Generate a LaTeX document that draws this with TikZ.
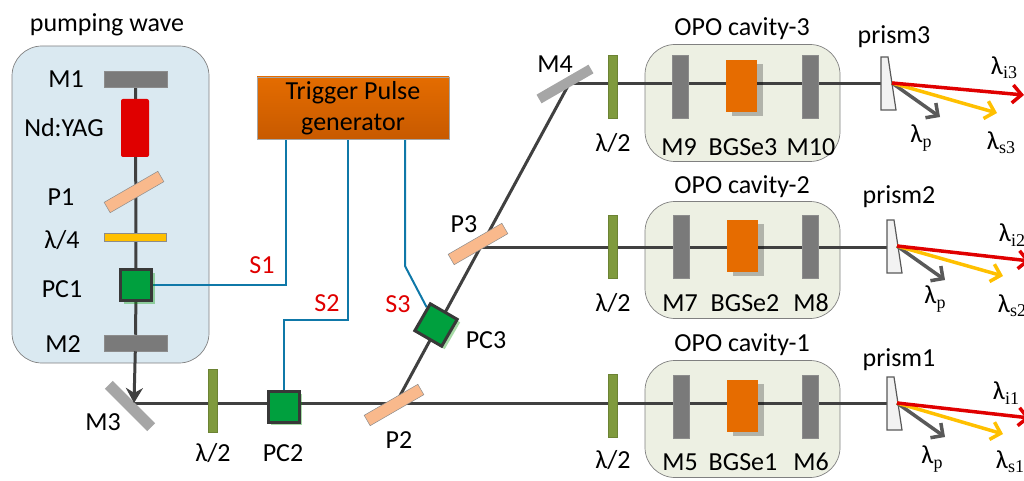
\documentclass[tikz,border=0pt]{standalone}
\usepackage{fontspec}
\setmainfont{Carlito}
\newfontfamily\subfont{Liberation Serif}
\usetikzlibrary{arrows.meta,shadows,backgrounds}
\definecolor{beamgray}{HTML}{404040}
\definecolor{pumpblue}{HTML}{DAE9F1}
\definecolor{cavitygreen}{HTML}{EDF0E3}
\definecolor{platepeach}{HTML}{F9B98C}
\definecolor{plategreen}{HTML}{7F9A3D}
\definecolor{cellgreen}{HTML}{00A03E}
\definecolor{wireblue}{HTML}{0F78A8}
\definecolor{crystalorange}{HTML}{E66C00}
\definecolor{triggertop}{HTML}{E46C00}
\definecolor{triggerlow}{HTML}{C85A00}
\definecolor{rayyellow}{HTML}{FFC000}
\definecolor{rayred}{HTML}{E00000}
\newcommand{\wl}[1]{λ\raisebox{-0.35ex}{\subfont\fontsize{18}{18}\selectfont #1}}
\tikzset{
    lab/.style={font=\fontsize{26}{30}\selectfont, inner sep=0pt},
    redlab/.style={lab, text=rayred},
    mirror/.style={rectangle, fill=black!52, draw=black!45, line width=0.5pt, inner sep=0pt},
    hmirror/.style={mirror, minimum width=63pt, minimum height=16pt},
    vmirror/.style={mirror, minimum width=16pt, minimum height=63pt},
    peach/.style={rectangle, fill=platepeach, draw=black!45, line width=0.5pt, inner sep=0pt, minimum width=62pt, minimum height=12pt, rotate=30},
    halfwave/.style={rectangle, fill=plategreen, draw=plategreen!85!black, line width=0.5pt, inner sep=0pt, minimum width=9pt, minimum height=63pt},
    cell/.style={rectangle, fill=cellgreen, draw=black!78, line width=3pt, inner sep=0pt, minimum width=31pt, minimum height=31pt,
        drop shadow={shadow xshift=3pt, shadow yshift=-3pt, fill=green!60!black, opacity=.35}},
    crystal/.style={rectangle, fill=crystalorange, inner sep=0pt, minimum width=31pt, minimum height=52pt,
        drop shadow={shadow xshift=6pt, shadow yshift=-4pt, fill=black, opacity=.25}},
    cavity/.style={rectangle, rounded corners=30pt, fill=cavitygreen, draw=black!50, line width=0.7pt, inner sep=0pt, minimum width=195pt, minimum height=117pt},
    beam/.style={draw=beamgray, line width=3pt},
    wire/.style={draw=wireblue, line width=2pt},
    prismbody/.style={fill=black!5, draw=black!65, line width=1.2pt},
    idler/.style={draw=rayred, line width=3.5pt, -{Straight Barb[length=9pt,width=18pt,line width=3.5pt]}},
    signal/.style={draw=rayyellow, line width=3.5pt, -{Straight Barb[length=9pt,width=18pt,line width=3.5pt]}},
    pump/.style={draw=black!65, line width=3.5pt, -{Straight Barb[length=9pt,width=18pt,line width=3.5pt]}},
}

\begin{document}
\begin{tikzpicture}[x=1pt, y=-1pt]
    \useasboundingbox (0,0) rectangle (1024,481);

    % pumping wave part
    \begin{pgfonlayer}{background}
        \node[rectangle, rounded corners=30pt, fill=pumpblue, draw=black!50, line width=0.7pt, inner sep=0pt, minimum width=197pt, minimum height=317pt] (pumpbox) at (110.5, 204.5) {};
        \node[cavity] (cavity3) at (742.5, 103) {};
        \node[cavity] (cavity2) at (742.5, 260) {};
        \node[cavity] (cavity1) at (742.5, 419) {};
    \end{pgfonlayer}
    \node[lab] (pumplab) at (107, 25) {pumping wave};
    \node[hmirror] (M1) at (135.5, 79.5) {};
    \node[rectangle, rounded corners=2pt, fill=rayred, inner sep=0pt, minimum width=28pt, minimum height=58pt] (yag) at (135, 128) {};
    \node[peach] (P1) at (134, 192) {};
    \node[rectangle, fill=rayyellow, draw=black!45, line width=0.5pt, inner sep=0pt, minimum width=62pt, minimum height=8pt] (qwave) at (135, 237) {};
    \node[cell] (PC1) at (136, 285) {};
    \node[hmirror] (M2) at (135.5, 343) {};
    \node[lab] (M1lab) at (66, 79) {M1};
    \node[lab] (yaglab) at (64, 128) {Nd:YAG};
    \node[lab] (P1lab) at (61, 197) {P1};
    \node[lab] (qwavelab) at (62, 240) {λ/4};
    \node[lab] (PC1lab) at (62, 289) {PC1};
    \node[lab] (M2lab) at (63, 344) {M2};

    % trigger
    \node[rectangle, top color=triggertop, bottom color=triggerlow, draw=black!35, line width=0.5pt, minimum width=192pt, minimum height=62pt, inner sep=0pt, align=center, font=\fontsize{26}{31}\selectfont] (trigger) at (353, 108) {Trigger Pulse\\generator};
    \coordinate (S1a) at (286, 139);
    \coordinate (S2a) at (348, 139);
    \coordinate (S3a) at (405, 139);
    \node[redlab] (S1) at (262, 265) {S1};
    \node[redlab] (S2) at (327, 303) {S2};
    \node[redlab] (S3) at (398, 304) {S3};

    % first line
    \node[rectangle, fill=black!35, inner sep=0pt, minimum width=60pt, minimum height=11pt, rotate=-45] (M3) at (130, 406) {};
    \node[halfwave] (wave1) at (213, 400.5) {};
    \node[cell] (PC2) at (283.5, 406.5) {};
    \node[peach] (P2) at (394, 405) {};
    \node[cell, rotate=-30] (PC3) at (436, 325) {};
    \node[peach] (P3) at (478, 244) {};
    \node[rectangle, fill=black!35, inner sep=0pt, minimum width=60pt, minimum height=10pt, rotate=30] (M4) at (565, 84) {};
    \node[lab] (M3lab) at (103, 422) {M3};
    \node[lab] (wave1lab) at (213, 453) {λ/2};
    \node[lab] (PC2lab) at (283, 453) {PC2};
    \node[lab] (P2lab) at (399, 440) {P2};
    \node[lab] (PC3lab) at (486, 340) {PC3};
    \node[lab] (P3lab) at (464, 224) {P3};
    \node[lab] (M4lab) at (555, 64) {M4};
    \coordinate (hitM3) at (134, 403);
    \coordinate (hitP2) at (396, 403);
    \coordinate (hitP3) at (478, 247);
    \coordinate (hitM4) at (569, 84);
    \draw[beam, -{Stealth[length=15pt,width=17pt]}] (M2) -- (hitM3);

    % cavity 3
    \node[lab] (cav3lab) at (742, 29) {OPO cavity-3};
    \node[halfwave] (wave4) at (613, 87) {};
    \node[vmirror] (M9) at (680, 86.5) {};
    \node[crystal] (crystal3) at (741.5, 86) {};
    \node[vmirror] (M10) at (810, 86.5) {};
    \node[lab] (wave4lab) at (613, 143) {λ/2};
    \node[lab] (M9lab) at (679, 147) {M9};
    \node[lab] (crystal3lab) at (743, 147) {BGSe3};
    \node[lab] (M10lab) at (811, 147) {M10};

    % cavity 2
    \node[lab] (cav2lab) at (742, 187) {OPO cavity-2};
    \node[halfwave] (wave3) at (613, 246.5) {};
    \node[vmirror] (M7) at (681, 247) {};
    \node[crystal] (crystal2) at (742.5, 246) {};
    \node[vmirror] (M8) at (810, 247) {};
    \node[lab] (wave3lab) at (613, 303) {λ/2};
    \node[lab] (M7lab) at (680, 303) {M7};
    \node[lab] (crystal2lab) at (745, 303) {BGSe2};
    \node[lab] (M8lab) at (811, 303) {M8};

    % cavity 1
    \node[lab] (cav1lab) at (742, 345) {OPO cavity-1};
    \node[halfwave] (wave2) at (613, 406) {};
    \node[vmirror] (M5) at (681, 407) {};
    \node[crystal] (crystal1) at (742.5, 406) {};
    \node[vmirror] (M6) at (810, 407) {};
    \node[lab] (wave2lab) at (613, 460) {λ/2};
    \node[lab] (M5lab) at (680, 462) {M5};
    \node[lab] (crystal1lab) at (743, 462) {BGSe1};
    \node[lab] (M6lab) at (811, 462) {M6};

    % prisms
    \draw[prismbody] (881, 57) -- (888, 57) -- (896, 110) -- (881, 110) -- cycle;
    \draw[prismbody] (887, 220) -- (894, 220) -- (902, 273) -- (887, 273) -- cycle;
    \draw[prismbody] (887, 377) -- (894, 377) -- (902, 430) -- (887, 430) -- cycle;
    \coordinate (in3) at (881, 84);
    \coordinate (in2) at (887, 247);
    \coordinate (in1) at (887, 403);
    \coordinate (out3) at (892, 83);
    \coordinate (out2) at (897, 246);
    \coordinate (out1) at (897, 403);
    \coordinate (red3) at (1024, 95);
    \coordinate (yel3) at (997, 113);
    \coordinate (gry3) at (940, 117);
    \coordinate (red2) at (1030, 261);
    \coordinate (yel2) at (1003, 276);
    \coordinate (gry2) at (945, 280);
    \coordinate (red1) at (1030, 418);
    \coordinate (yel1) at (1003, 434);
    \coordinate (gry1) at (945, 437);
    \draw[pump] (out3) -- (gry3);
    \draw[signal] (out3) -- (yel3);
    \draw[idler] (out3) -- (red3);
    \draw[pump] (out2) -- (gry2);
    \draw[signal] (out2) -- (yel2);
    \draw[idler] (out2) -- (red2);
    \draw[pump] (out1) -- (gry1);
    \draw[signal] (out1) -- (yel1);
    \draw[idler] (out1) -- (red1);
    \node[lab] (prism3lab) at (894, 37) {prism3};
    \node[lab] (prism2lab) at (899, 197) {prism2};
    \node[lab] (prism1lab) at (899, 360) {prism1};
    \node[lab] (i3) at (1004, 68) {\wl{i3}};
    \node[lab] (s3) at (1001, 143) {\wl{s3}};
    \node[lab] (p3) at (921, 138) {\wl{p}};
    \node[lab] (i2) at (1012, 235) {\wl{i2}};
    \node[lab] (s2) at (1012, 306) {\wl{s2}};
    \node[lab] (p2) at (935, 299) {\wl{p}};
    \node[lab] (i1) at (1006, 393) {\wl{i1}};
    \node[lab] (s1) at (1010, 462) {\wl{s1}};
    \node[lab] (p1) at (932, 459) {\wl{p}};

    % beams and wires go under the parts
    \begin{pgfonlayer}{background}
        \draw[beam] (M1) -- (PC1);
        \draw[beam] (PC1) -- (M2);
        \draw[beam] (hitM3) -- (in1);
        \draw[beam] (hitP2) -- (hitM4);
        \draw[beam] (hitM4) -- (in3);
        \draw[beam] (hitP3) -- (in2);
        \draw[wire] (S1a) |- (PC1);
        \draw[wire] (S2a) -- ++(0, 181) -| (PC2);
        \draw[wire] (S3a) -- ++(0, 127) -- (PC3);
    \end{pgfonlayer}
\end{tikzpicture}
\end{document}
